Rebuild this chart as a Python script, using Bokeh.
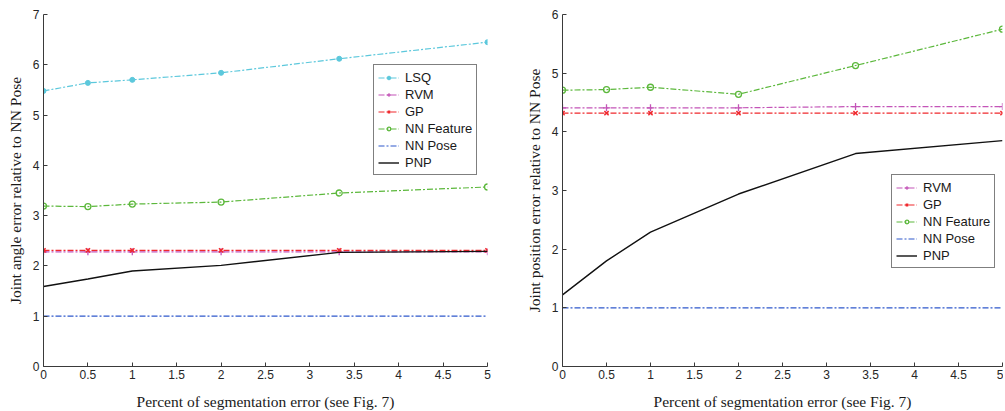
from bokeh.plotting import figure
from bokeh.layouts import row
from bokeh.models import Range1d, FixedTicker, CustomJSTickFormatter, Legend, LegendItem
from bokeh.embed import file_html
from bokeh.resources import INLINE

# ---------------- data ----------------
x_pct = [0, 0.5, 1, 2, 3.33, 5]
x_ticks = [0, 0.5, 1, 1.5, 2, 2.5, 3, 3.5, 4, 4.5, 5]
angle_y_ticks = [0, 1, 2, 3, 4, 5, 6, 7]
pos_y_ticks = [0, 1, 2, 3, 4, 5, 6]

# left panel: joint angle error relative to NN Pose
angle_lsq = [5.48, 5.64, 5.70, 5.84, 6.12, 6.45]
angle_rvm = [2.28, 2.28, 2.28, 2.28, 2.28, 2.28]
angle_gp = [2.31, 2.31, 2.31, 2.31, 2.31, 2.31]
angle_nnfeat = [3.19, 3.18, 3.23, 3.27, 3.45, 3.57]
angle_nnpose = [1, 1, 1, 1, 1, 1]
angle_pnp = [1.59, 1.74, 1.90, 2.01, 2.27, 2.29]

# right panel: joint position error relative to NN Pose
pos_rvm = [4.41, 4.41, 4.41, 4.41, 4.43, 4.43]
pos_gp = [4.32, 4.32, 4.32, 4.32, 4.32, 4.32]
pos_nnfeat = [4.71, 4.72, 4.76, 4.64, 5.13, 5.75]
pos_nnpose = [1, 1, 1, 1, 1, 1]
pos_pnp = [1.22, 1.80, 2.29, 2.94, 3.63, 3.85]

# ---------------- styles ----------------
C_LSQ = "#5cc8dc"
C_RVM = "#c455b8"
C_GP = "#f0282d"
C_NNF = "#5cb83c"
C_NNP = "#2f58cc"
C_PNP = "#111111"
DASHDOT = "6 2 2 2"
TICK_FONT = "Liberation Sans"
LABEL_FONT = "Liberation Serif"


def make_fig(ymax, yticks, ylabel, fw, mbl, mbr):
    p = figure(frame_width=fw, frame_height=352,
               x_range=Range1d(0, 5), y_range=Range1d(0, ymax),
               output_backend="svg", toolbar_location=None,
               min_border_left=mbl, min_border_right=mbr,
               min_border_top=14, min_border_bottom=44)
    p.outline_line_color = None
    p.xgrid.visible = False
    p.ygrid.visible = False
    p.background_fill_color = "white"
    p.xaxis.ticker = FixedTicker(ticks=x_ticks)
    p.xaxis.formatter = CustomJSTickFormatter(code="return tick.toString()")
    p.yaxis.ticker = FixedTicker(ticks=yticks)
    p.xaxis.axis_label = "Percent of segmentation error (see Fig. 7)"
    p.yaxis.axis_label = ylabel
    for ax in (p.xaxis[0], p.yaxis[0]):
        ax.axis_line_color = "#3a3a3a"
        ax.axis_line_width = 1
        ax.major_tick_line_color = "#3a3a3a"
        ax.major_tick_in = 4
        ax.major_tick_out = 0
        ax.minor_tick_line_color = None
        ax.major_label_text_font = TICK_FONT
        ax.major_label_text_font_size = "12px"
        ax.major_label_text_color = "#262626"
        ax.axis_label_text_font = LABEL_FONT
        ax.axis_label_text_font_style = "normal"
        ax.axis_label_text_font_size = "15.5px"
        ax.axis_label_text_color = "#1a1a1a"
    p.xaxis.major_label_standoff = 3
    p.xaxis.axis_label_standoff = 11
    p.yaxis.major_label_standoff = 4
    p.yaxis.axis_label_standoff = 6
    return p


def add_series(p, y, color, marker, dash, width=1.2):
    r = [p.line(x_pct, y, line_color=color, line_width=width, line_dash=dash)]
    if marker == "circle_filled":
        r.append(p.scatter(x_pct, y, marker="circle", size=5, fill_color=color, line_color=color))
    elif marker == "circle_open":
        r.append(p.scatter(x_pct, y, marker="circle", size=6, fill_color=None, line_color=color, line_width=1.3))
    elif marker == "cross":
        r.append(p.scatter(x_pct, y, marker="cross", size=7, line_color=color, line_width=1.3))
    elif marker == "x":
        r.append(p.scatter(x_pct, y, marker="x", size=6, line_color=color, line_width=1.5))
    return r


def style_legend(lg):
    lg.border_line_color = "black"
    lg.border_line_width = 1
    lg.background_fill_color = "white"
    lg.background_fill_alpha = 1
    lg.label_text_font = TICK_FONT
    lg.label_text_font_size = "13px"
    lg.label_text_color = "#1a1a1a"
    lg.glyph_width = 21
    lg.glyph_height = 9
    lg.label_height = 16
    lg.spacing = 1
    lg.padding = 4
    lg.label_standoff = 6
    lg.margin = 0


# ---------------- left ----------------
p1 = make_fig(7, angle_y_ticks, "Joint angle error relative to NN Pose", 444, 43, 33)
r_lsq = add_series(p1, angle_lsq, C_LSQ, "circle_filled", DASHDOT)
r_nnf = add_series(p1, angle_nnfeat, C_NNF, "circle_open", DASHDOT)
r_nnp = add_series(p1, angle_nnpose, C_NNP, None, DASHDOT)
r_rvm = add_series(p1, angle_rvm, C_RVM, "cross", DASHDOT)
r_gp = add_series(p1, angle_gp, C_GP, "x", DASHDOT)
r_pnp = add_series(p1, angle_pnp, C_PNP, None, "solid", 1.4)
lg1 = Legend(items=[
    LegendItem(label="LSQ", renderers=r_lsq),
    LegendItem(label="RVM", renderers=r_rvm),
    LegendItem(label="GP", renderers=r_gp),
    LegendItem(label="NN Feature", renderers=r_nnf),
    LegendItem(label="NN Pose", renderers=r_nnp),
    LegendItem(label="PNP", renderers=r_pnp),
], location=(330, 191))
style_legend(lg1)
p1.add_layout(lg1)

# ---------------- right ----------------
p2 = make_fig(6, pos_y_ticks, "Joint position error relative to NN Pose", 440, 42, 1)
q_nnf = add_series(p2, pos_nnfeat, C_NNF, "circle_open", DASHDOT)
q_nnp = add_series(p2, pos_nnpose, C_NNP, None, DASHDOT)
q_rvm = add_series(p2, pos_rvm, C_RVM, "cross", DASHDOT)
q_gp = add_series(p2, pos_gp, C_GP, "x", DASHDOT)
q_pnp = add_series(p2, pos_pnp, C_PNP, None, "solid", 1.4)
lg2 = Legend(items=[
    LegendItem(label="RVM", renderers=q_rvm),
    LegendItem(label="GP", renderers=q_gp),
    LegendItem(label="NN Feature", renderers=q_nnf),
    LegendItem(label="NN Pose", renderers=q_nnp),
    LegendItem(label="PNP", renderers=q_pnp),
], location=(329, 98))
style_legend(lg2)
p2.add_layout(lg2)

layout = row(p1, p2, spacing=0)
open("out.html", "w").write(file_html(layout, INLINE))
